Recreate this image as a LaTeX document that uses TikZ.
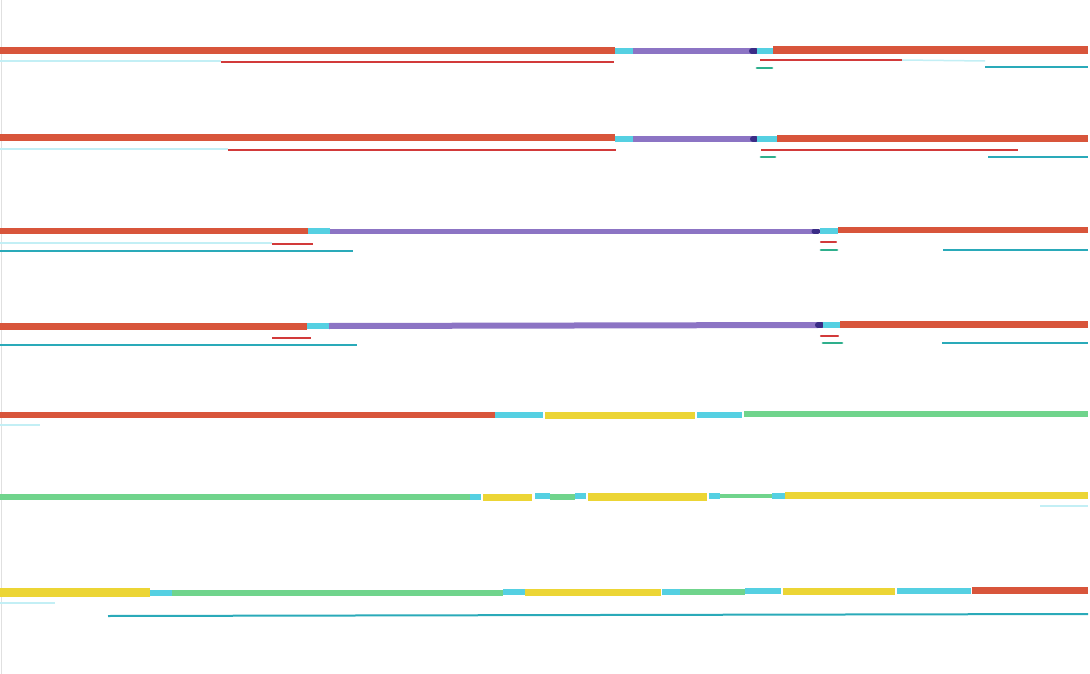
\documentclass[tikz,border=0pt]{standalone}
\usepackage{tikz}
\usepackage{xcolor}
\definecolor{rougeFeutre}{HTML}{D8553B}
\definecolor{rougeFin}{HTML}{D23A3A}
\definecolor{cyanFeutre}{HTML}{55D0E2}
\definecolor{violetFeutre}{HTML}{8C74C4}
\definecolor{marineFeutre}{HTML}{3A2C86}
\definecolor{jauneFeutre}{HTML}{ECD535}
\definecolor{vertFeutre}{HTML}{70D48C}
\definecolor{tealFin}{HTML}{2AAAB9}
\definecolor{vertTiret}{HTML}{2EAF8C}
\begin{document}
\begin{tikzpicture}[
				x=1pt, y=-1pt,
				% Segments epais (feutre)
				segRouge/.style={draw=rougeFeutre, line width=7pt},
				segCyan/.style={draw=cyanFeutre, line width=6pt},
				segViolet/.style={draw=violetFeutre, line width=6pt},
				segJaune/.style={draw=jauneFeutre, line width=7pt},
				segVert/.style={draw=vertFeutre, line width=6pt},
				pointMarine/.style={draw=marineFeutre, line width=6pt, line cap=round},
				% Traits fins
				filRouge/.style={draw=rougeFin, line width=2.2pt},
				filCyan/.style={draw=tealFin, line width=2pt},
				filPale/.style={draw=cyanFeutre!35, line width=1.5pt},
				tiretVert/.style={draw=vertTiret, line width=2.8pt, line cap=round},
				tiretRouge/.style={draw=rougeFin, line width=2.4pt, line cap=round},
				]
				
				\useasboundingbox (0,0) rectangle (1090,674);
				\draw[black!12, line width=1pt] (1,0) -- (1,674);
				
				% Rang 1
				\draw[segRouge] (0,51) -- (615,51);
				\draw[segCyan] (615,51) -- (633,51);
				\draw[segViolet] (633,51) -- (753,51);
				\draw[pointMarine] (752,51) -- (756,51);
				\draw[segCyan] (757,51) -- (773,51);
				\draw[segRouge, line width=8pt] (773,50) -- (1088,50);
				\draw[filPale] (0,61) -- (221,61);
				\draw[filRouge] (221,62) -- (614,62);
				\draw[filRouge] (760,60) -- (902,60);
				\draw[filPale] (902,60) -- (985,61);
				\draw[filCyan] (985,67) -- (1088,67);
				\draw[tiretVert] (757,68) -- (772,68);
				
				% Rang 2
				\draw[segRouge] (0,138) -- (615,138);
				\draw[segCyan] (615,139) -- (633,139);
				\draw[segViolet] (633,139) -- (755,139);
				\draw[pointMarine] (753,139) -- (756,139);
				\draw[segCyan] (757,139) -- (777,139);
				\draw[segRouge] (777,139) -- (1088,139);
				\draw[filPale] (0,149) -- (228,149);
				\draw[filRouge] (228,150) -- (616,150);
				\draw[filRouge] (761,150) -- (1018,150);
				\draw[tiretVert] (761,157) -- (775,157);
				\draw[filCyan] (988,157) -- (1088,157);
				
				% Rang 3
				\draw[segRouge, line width=6pt] (0,231) -- (308,231);
				\draw[segCyan] (308,231) -- (330,231);
				\draw[segViolet, line width=5pt] (330,231) -- (814,231);
				\draw[pointMarine, line width=5pt] (814,231) -- (818,231);
				\draw[segCyan] (820,231) -- (838,231);
				\draw[segRouge, line width=6pt] (838,230) -- (1088,230);
				\draw[filPale] (0,243) -- (272,243);
				\draw[filRouge] (272,244) -- (313,244);
				\draw[filCyan] (0,251) -- (353,251);
				\draw[tiretRouge] (821,242) -- (836,242);
				\draw[tiretVert] (821,250) -- (837,250);
				\draw[filCyan] (943,250) -- (1088,250);
				
				% Rang 4
				\draw[segRouge] (0,326) -- (307,326);
				\draw[segCyan] (307,326) -- (329,326);
				\draw[segViolet] (329,326) -- (818,325);
				\draw[pointMarine] (818,325) -- (822,325);
				\draw[segCyan] (823,325) -- (840,325);
				\draw[segRouge] (840,324) -- (1088,324);
				\draw[filRouge] (272,338) -- (311,338);
				\draw[filCyan] (0,345) -- (357,345);
				\draw[tiretRouge] (821,336) -- (838,336);
				\draw[tiretVert] (823,343) -- (842,343);
				\draw[filCyan] (942,343) -- (1088,343);
				
				% Rang 5
				\draw[segRouge, line width=6pt] (0,415) -- (495,415);
				\draw[segCyan] (495,415) -- (543,415);
				\draw[segJaune] (545,415) -- (695,415);
				\draw[segCyan] (697,415) -- (742,415);
				\draw[segVert] (744,414) -- (1088,414);
				\draw[filPale] (0,425) -- (40,425);
				
				% Rang 6
				\draw[segVert] (0,497) -- (470,497);
				\draw[segCyan] (470,497) -- (481,497);
				\draw[segJaune] (483,497) -- (532,497);
				\draw[segCyan] (535,496) -- (550,496);
				\draw[segVert] (550,497) -- (575,497);
				\draw[segCyan] (575,496) -- (586,496);
				\draw[segJaune, line width=8pt] (588,497) -- (707,497);
				\draw[segCyan] (709,496) -- (720,496);
				\draw[segVert, line width=4pt] (720,496) -- (772,496);
				\draw[segCyan] (772,496) -- (785,496);
				\draw[segJaune] (785,495) -- (1088,495);
				\draw[filPale] (1040,506) -- (1088,506);
				
				% Rang 7
				\draw[segJaune, line width=9pt] (0,592) -- (150,592);
				\draw[segCyan] (150,593) -- (172,593);
				\draw[segVert] (172,593) -- (503,593);
				\draw[segCyan] (503,592) -- (525,592);
				\draw[segJaune] (525,592) -- (661,592);
				\draw[segCyan] (662,592) -- (680,592);
				\draw[segVert] (680,592) -- (745,592);
				\draw[segCyan] (745,591) -- (781,591);
				\draw[segJaune] (783,591) -- (895,591);
				\draw[segCyan] (897,591) -- (971,591);
				\draw[segRouge] (972,590) -- (1088,590);
				\draw[filPale] (0,603) -- (55,603);
				\draw[filCyan] (108,616) -- (1088,614);
			\end{tikzpicture}
\end{document}
